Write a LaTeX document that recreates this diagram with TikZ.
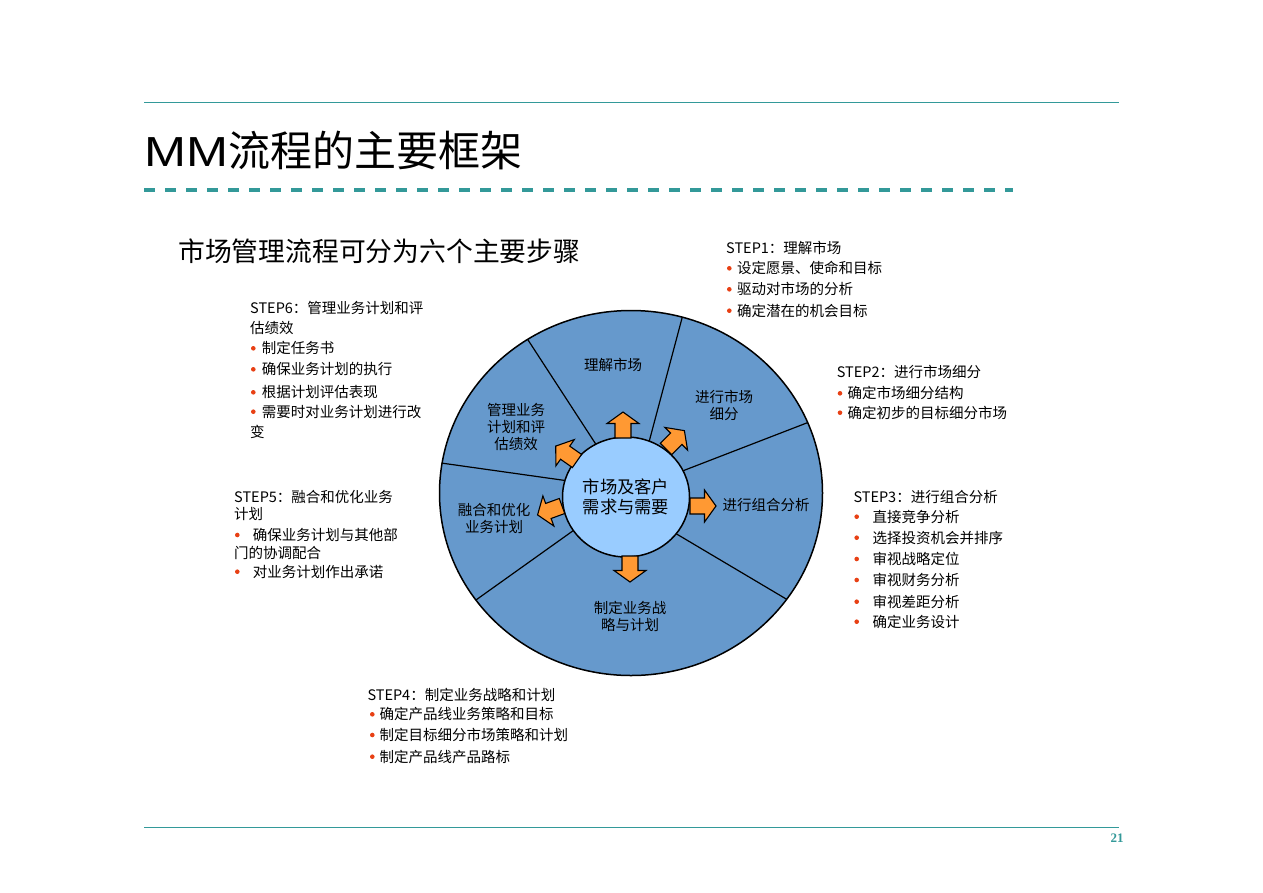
\documentclass[tikz,border=0pt]{standalone}
\usepackage{fontspec}
\usepackage{graphicx}
\setmainfont{Noto Sans CJK SC}
\newfontfamily\arialf{Liberation Sans}
\newfontfamily\timesf{Liberation Serif}
\usetikzlibrary{shapes.geometric,calc}
\definecolor{tealline}{RGB}{51,153,153}
\definecolor{outerblue}{RGB}{102,153,204}
\definecolor{innerblue}{RGB}{153,204,255}
\definecolor{arroworange}{RGB}{255,153,51}
\definecolor{bulletred}{RGB}{232,64,20}
\tikzset{
  txt/.style={inner sep=0pt, anchor=base west, font=\fontsize{14.5}{17}\selectfont},
  lbl/.style={inner sep=0pt, align=center, font=\fontsize{14.5}{17}\selectfont},
  bulletdot/.style={fill=bulletred},
  divline/.style={draw=black, line width=1.2pt},
  arrowfill/.style={fill=arroworange, draw=black, line width=1.1pt, line join=miter},
  orangearrow/.pic={\draw[arrowfill] (0,-8) -- (14.5,-8) -- (14.5,-16) -- (26,0) -- (14.5,16) -- (14.5,8) -- (0,8) -- cycle;}
}
\begin{document}
\begin{tikzpicture}[x=1pt,y=-1pt]
\useasboundingbox (0,0) rectangle (1263,892);
\fill[white] (0,0) rectangle (1263,892);

% header / footer rules
\coordinate (tl) at (144,102.5); \coordinate (tr) at (1119,102.5);
\draw[tealline, line width=1.2pt] (tl) -- (tr);
\coordinate (dl) at (144,190); \coordinate (dr) at (1013,190);
\draw[tealline, line width=3.5pt, dash pattern=on 11pt off 10pt] (dl) -- (dr);
\coordinate (bl) at (144,827.5); \coordinate (br) at (1119,827.5);
\draw[tealline, line width=1.2pt] (bl) -- (br);
\node[inner sep=0pt, text=tealline, font=\timesf\bfseries\fontsize{13}{15}\selectfont] (pg) at (1117,838) {21};

% title
\node[inner sep=0pt, anchor=base west, font=\fontsize{42}{48}\selectfont] (title) at (144,166)
  {{\arialf\scalebox{1.2}[1]{MM}}流程的主要框架};
\node[inner sep=0pt, anchor=base west, font=\fontsize{26.8}{30}\selectfont] (sub) at (178,261.5)
  {市场管理流程可分为六个主要步骤};

% wheel
\coordinate (wc) at (631,493);
\coordinate (l1i) at (595.7,444); \coordinate (l1o) at (530,343);
\coordinate (l2i) at (650,438.3); \coordinate (l2o) at (681.7,319.3);
\coordinate (l3i) at (685,470);   \coordinate (l3o) at (810,421.7);
\coordinate (l4i) at (678.3,535); \coordinate (l4o) at (785,598.3);
\coordinate (l5i) at (571.7,531.7); \coordinate (l5o) at (478.3,598.3);
\coordinate (l6i) at (561.7,480); \coordinate (l6o) at (443.3,463.3);
\begin{scope}
  \clip (wc) ellipse [x radius=191.5, y radius=182.5];
  \fill[outerblue] (wc) ellipse [x radius=191.5, y radius=182.5];
  \foreach \k in {1,...,6}{
    \draw[divline] ($(l\k o)!1.1!(l\k i)$) -- ($(l\k i)!1.2!(l\k o)$);
  }
\end{scope}
\draw[black, line width=1.5pt] (wc) ellipse [x radius=191.5, y radius=182.5];

\node[ellipse, draw=black, line width=1.5pt, fill=innerblue, minimum width=127pt, minimum height=120pt,
      inner sep=0pt, align=center, font=\fontsize{17.3}{20}\selectfont] (hub) at (626,497)
  {市场及客户\\需求与需要};

\pic[rotate=90]  at (623,438) {orangearrow};
\pic[rotate=45]  at (666,449) {orangearrow};
\pic[rotate=0]   at (690,506) {orangearrow};
\pic[rotate=-90] at (630,556) {orangearrow};
\pic[rotate=200] at (562,506) {orangearrow};
\pic[rotate=145] at (577,461) {orangearrow};

% segment labels
\node[lbl] (w1) at (613,365) {理解市场};
\node[lbl] (w2) at (724,405) {进行市场\\细分};
\node[lbl] (w3) at (766,505) {进行组合分析};
\node[lbl] (w4) at (630,616) {制定业务战\\略与计划};
\node[lbl] (w5) at (494,518) {融合和优化\\业务计划};
\node[lbl] (w6) at (516,427) {管理业务\\计划和评\\估绩效};

% STEP1
\node[txt] (s1t) at (726,253.8) {STEP1：理解市场};
\fill[bulletdot] (729.3,268.3) circle[radius=2.3pt];
\node[txt] (s1a) at (737,273.8) {设定愿景、使命和目标};
\fill[bulletdot] (729.3,289.3) circle[radius=2.3pt];
\node[txt] (s1b) at (737,294.8) {驱动对市场的分析};
\fill[bulletdot] (729.3,310.7) circle[radius=2.3pt];
\node[txt] (s1c) at (737,316.2) {确定潜在的机会目标};

% STEP2
\node[txt] (s2t) at (836.7,377.2) {STEP2：进行市场细分};
\fill[bulletdot] (840,393.3) circle[radius=2.3pt];
\node[txt] (s2a) at (847.3,398.8) {确定市场细分结构};
\fill[bulletdot] (840,412.7) circle[radius=2.3pt];
\node[txt] (s2b) at (847.3,418.2) {确定初步的目标细分市场};

% STEP3
\node[txt] (s3t) at (853.3,502.2) {STEP3：进行组合分析};
\fill[bulletdot] (856.7,516.7) circle[radius=2.3pt];
\node[txt] (s3a) at (872.3,522.2) {直接竞争分析};
\fill[bulletdot] (856.7,537.7) circle[radius=2.3pt];
\node[txt] (s3b) at (872.3,543.2) {选择投资机会并排序};
\fill[bulletdot] (856.7,559) circle[radius=2.3pt];
\node[txt] (s3c) at (872.3,564.5) {审视战略定位};
\fill[bulletdot] (856.7,580) circle[radius=2.3pt];
\node[txt] (s3d) at (872.3,585.5) {审视财务分析};
\fill[bulletdot] (856.7,601.7) circle[radius=2.3pt];
\node[txt] (s3e) at (872.3,607.2) {审视差距分析};
\fill[bulletdot] (856.7,621.7) circle[radius=2.3pt];
\node[txt] (s3f) at (872.3,627.2) {确定业务设计};

% STEP4
\node[txt] (s4t) at (367.3,700.5) {STEP4：制定业务战略和计划};
\fill[bulletdot] (372.3,714.3) circle[radius=2.3pt];
\node[txt] (s4a) at (379.3,719.8) {确定产品线业务策略和目标};
\fill[bulletdot] (372.3,735) circle[radius=2.3pt];
\node[txt] (s4b) at (379.3,740.5) {制定目标细分市场策略和计划};
\fill[bulletdot] (372.3,756.7) circle[radius=2.3pt];
\node[txt] (s4c) at (379.3,762.2) {制定产品线产品路标};

% STEP5
\node[txt] (s5t) at (234,502.2) {STEP5：融合和优化业务};
\node[txt] (s5t2) at (234,519.5) {计划};
\fill[bulletdot] (237.3,535) circle[radius=2.3pt];
\node[txt] (s5a) at (252.7,540.5) {确保业务计划与其他部};
\node[txt] (s5a2) at (234,558.8) {门的协调配合};
\fill[bulletdot] (237.3,571.7) circle[radius=2.3pt];
\node[txt] (s5b) at (252.7,577.2) {对业务计划作出承诺};

% STEP6
\node[txt] (s6t) at (250,313.8) {STEP6：管理业务计划和评};
\node[txt] (s6t2) at (250,333.8) {估绩效};
\fill[bulletdot] (253.3,348.3) circle[radius=2.3pt];
\node[txt] (s6a) at (261.7,353.8) {制定任务书};
\fill[bulletdot] (253.3,369.3) circle[radius=2.3pt];
\node[txt] (s6b) at (261.7,374.8) {确保业务计划的执行};
\fill[bulletdot] (253.3,392.3) circle[radius=2.3pt];
\node[txt] (s6c) at (261.7,397.8) {根据计划评估表现};
\fill[bulletdot] (253.3,411.7) circle[radius=2.3pt];
\node[txt] (s6d) at (261.7,417.2) {需要时对业务计划进行改};
\node[txt] (s6d2) at (250,437.2) {变};
\end{tikzpicture}
\end{document}
